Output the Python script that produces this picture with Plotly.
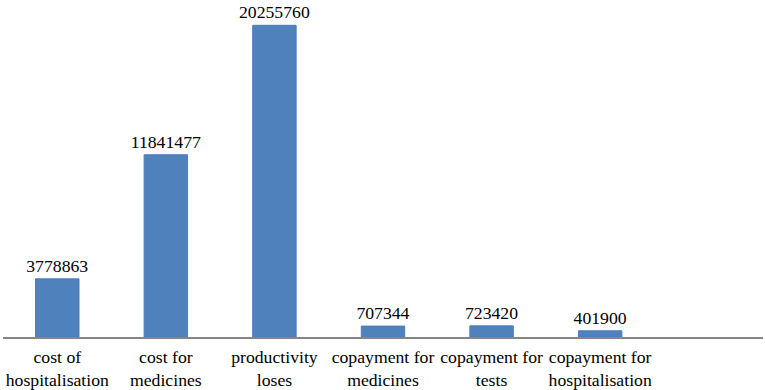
import plotly.graph_objects as go

categories = ["cost of<br>hospitalisation", "cost for<br>medicines", "productivity<br>loses",
              "copayment for<br>medicines", "copayment for<br>tests", "copayment for<br>hospitalisation"]
values = [3778863, 11841477, 20255760, 707344, 723420, 401900]
positions = list(range(len(categories)))

fig = go.Figure(go.Bar(
    x=positions, y=values, width=0.4,
    marker=dict(color="#4F81BD", line=dict(color="#4A7EBB", width=1)),
    text=[str(v) for v in values], textposition="outside",
    textfont=dict(family="Liberation Serif", size=17.7, color="black"),
    constraintext="none",
    cliponaxis=False,
))
fig.update_layout(
    width=765, height=390,
    margin=dict(l=3, r=2, t=0, b=53),
    paper_bgcolor="white", plot_bgcolor="white",
    showlegend=False,
    font=dict(family="Liberation Serif", size=17.7, color="black"),
    xaxis=dict(range=[-0.5, 6.5], tickvals=positions, ticktext=categories,
               showline=True, linecolor="#868686", linewidth=1.5, showgrid=False,
               zeroline=False, ticks="", tickfont=dict(size=17.7), ticklabelstandoff=3),
    yaxis=dict(range=[0, 21.9e6], visible=False, showgrid=False, zeroline=False),
)
fig.write_html("out.html", config={"displayModeBar": False},
               post_script="document.body.style.margin='0';")
